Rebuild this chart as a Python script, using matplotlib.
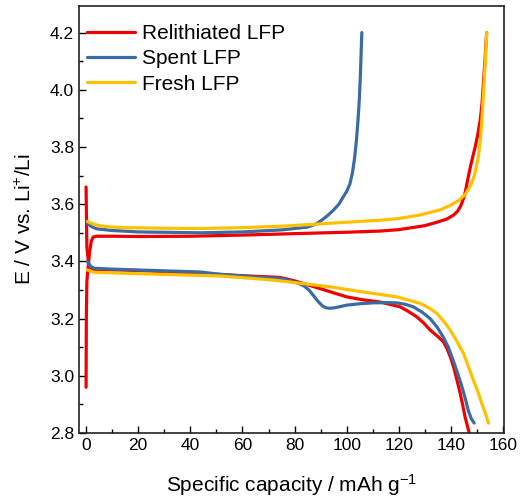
import matplotlib
matplotlib.use("Agg")
import matplotlib.pyplot as plt
from matplotlib.ticker import MultipleLocator

plt.rcParams['font.family'] = ['Liberation Sans', 'DejaVu Sans']
plt.rcParams['mathtext.fontset'] = 'custom'
plt.rcParams['mathtext.rm'] = 'Liberation Sans'
plt.rcParams['mathtext.it'] = 'Liberation Sans:italic'

# ---- data ----
relith_charge_x = [0, 0.1, 0.3, 0.8, 1.3, 2.0, 2.7, 4, 6, 10, 20, 40, 60, 80, 100, 112.8,
                   120, 130, 135, 138.4, 141, 142.5, 143.8, 144.8, 145.5, 146.3, 147.2,
                   148.2, 149.3, 150.3, 151.2, 151.9, 152.5, 153.1, 153.7]
relith_charge_y = [2.96, 3.20, 3.33, 3.38, 3.43, 3.47, 3.485, 3.488, 3.488, 3.488, 3.487,
                   3.488, 3.492, 3.497, 3.502, 3.506, 3.511, 3.525, 3.538, 3.548, 3.562,
                   3.575, 3.595, 3.62, 3.643, 3.68, 3.72, 3.76, 3.80, 3.845, 3.893, 3.95,
                   4.03, 4.11, 4.20]
relith_dis_x = [0, 0.3, 1, 2, 3, 10, 20, 40, 60, 74.4, 80, 85, 89.8, 95, 100, 106, 112.8,
                116.5, 120.5, 123.5, 126.9, 129.5, 132, 135, 137.1, 138.5, 139.8, 141,
                142.3, 143.5, 144.5, 145.4, 146.3, 147, 147.3]
relith_dis_y = [3.66, 3.45, 3.39, 3.375, 3.372, 3.37, 3.368, 3.36, 3.35, 3.344, 3.332,
                3.318, 3.305, 3.29, 3.276, 3.266, 3.258, 3.25, 3.241, 3.226, 3.206, 3.185,
                3.16, 3.137, 3.119, 3.095, 3.065, 3.031, 2.985, 2.94, 2.898, 2.857, 2.825,
                2.80, 2.79]

spent_charge_x = [0.5, 1.2, 2, 4, 10, 20, 44, 60, 75, 85, 88.5, 91, 93, 95, 97, 98.7, 100,
                  101.2, 102.2, 103, 103.7, 104.3, 104.8, 105.2, 105.5, 105.8]
spent_charge_y = [3.533, 3.528, 3.522, 3.514, 3.508, 3.503, 3.50, 3.503, 3.51, 3.52, 3.532,
                  3.548, 3.563, 3.58, 3.60, 3.626, 3.645, 3.67, 3.71, 3.76, 3.82, 3.89,
                  3.96, 4.04, 4.12, 4.20]
spent_dis_x = [0.5, 1.5, 3, 10, 20, 43.7, 51.4, 70, 74.4, 78, 81, 83.5, 85.5, 87.3, 89,
               90.6, 92, 93.5, 95.5, 98, 100, 105, 110, 115, 119.2, 122.5, 125.6, 129, 132,
               134.7, 137, 139, 140.8, 142.6, 144.2, 145.5, 146.6, 147.8, 148.9]
spent_dis_y = [3.40, 3.385, 3.376, 3.373, 3.37, 3.363, 3.355, 3.342, 3.341, 3.333, 3.325,
               3.315, 3.30, 3.28, 3.26, 3.245, 3.238, 3.236, 3.238, 3.243, 3.247, 3.252,
               3.255, 3.256, 3.255, 3.25, 3.241, 3.222, 3.20, 3.17, 3.136, 3.10, 3.055,
               3.008, 2.962, 2.92, 2.88, 2.85, 2.835]

fresh_charge_x = [0.5, 2, 5, 10, 15, 30, 44, 60, 75, 88, 100, 112.8, 120, 128, 135.8, 140,
                  143, 145.5, 147.5, 149, 150.5, 151.3, 151.8, 152.3, 152.8, 153.3, 153.7]
fresh_charge_y = [3.540, 3.533, 3.525, 3.52, 3.518, 3.516, 3.515, 3.518, 3.523, 3.53, 3.537,
                  3.544, 3.55, 3.562, 3.58, 3.597, 3.613, 3.635, 3.665, 3.70, 3.765, 3.83,
                  3.885, 3.96, 4.04, 4.12, 4.20]
fresh_dis_x = [0.5, 2, 3, 10, 20, 40, 51.4, 70, 74.4, 93.6, 106.4, 119.2, 128.2, 131.5,
               134.6, 137.3, 139.7, 142.3, 144.8, 146.8, 148.6, 150.3, 151.8, 153.2, 154.4]
fresh_dis_y = [3.37, 3.365, 3.362, 3.36, 3.357, 3.352, 3.349, 3.336, 3.332, 3.311, 3.293,
               3.276, 3.253, 3.238, 3.218, 3.19, 3.16, 3.12, 3.078, 3.03, 2.985, 2.945,
               2.904, 2.868, 2.834]

labels = ["Relithiated LFP", "Spent LFP", "Fresh LFP"]
colors = ["#f00000", "#3a6ca3", "#ffc000"]

fig = plt.figure(figsize=(5.2, 4.98), dpi=100)
ax = fig.add_axes([0.152, 0.1305, 0.817, 0.8575])

lw = 2.3
series = [
    (relith_charge_x, relith_charge_y, relith_dis_x, relith_dis_y),
    (spent_charge_x, spent_charge_y, spent_dis_x, spent_dis_y),
    (fresh_charge_x, fresh_charge_y, fresh_dis_x, fresh_dis_y),
]
for (cx, cy, dx, dy), lab, col in zip(series, labels, colors):
    ax.plot(cx, cy, color=col, lw=lw, label=lab, solid_capstyle='round', solid_joinstyle='round')
    ax.plot(dx, dy, color=col, lw=lw, solid_capstyle='round', solid_joinstyle='round')

ax.set_xlim(-2.7, 160.3)
ax.set_ylim(2.8, 4.293)
ax.xaxis.set_major_locator(MultipleLocator(20))
ax.xaxis.set_minor_locator(MultipleLocator(10))
ax.set_yticks([2.8, 3.0, 3.2, 3.4, 3.6, 3.8, 4.0, 4.2])
ax.yaxis.set_minor_locator(MultipleLocator(0.1))
ax.tick_params(which='both', direction='in', top=False, right=False, labelsize=12.5,
               width=1.0, colors='black')
ax.tick_params(which='major', length=5)
ax.tick_params(which='minor', length=3)
for s in ax.spines.values():
    s.set_linewidth(1.2)
    s.set_color('#222222')

ax.set_xlabel("Specific capacity / mAh g$^{\\mathregular{-1}}$", fontsize=15, labelpad=14)
ax.set_ylabel("E / V vs. Li$^{\\mathregular{+}}$/Li", fontsize=15, labelpad=11)

ax.legend(loc='upper left', frameon=False, fontsize=15, handlelength=2.3,
          handletextpad=0.34, labelspacing=0.3, borderaxespad=0.0,
          bbox_to_anchor=(0.0, 0.977))

fig.savefig("out.png", dpi=100)
